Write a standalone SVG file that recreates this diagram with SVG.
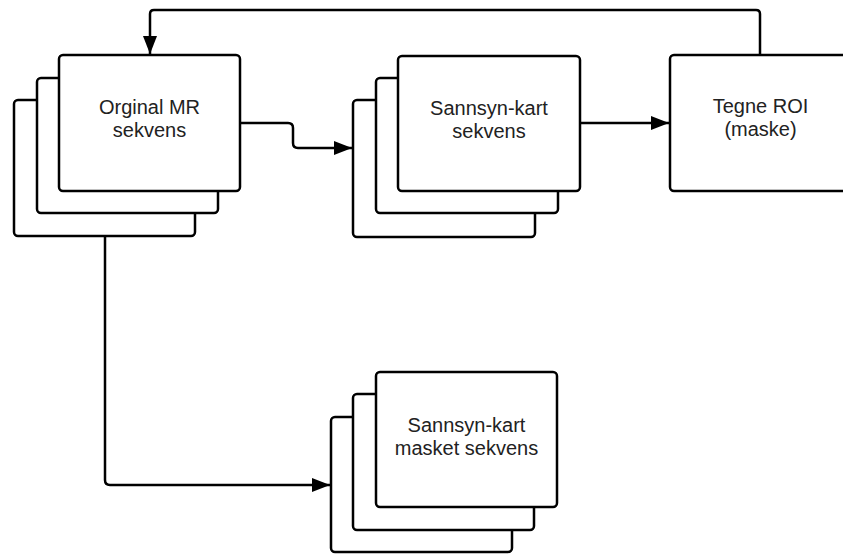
<svg xmlns="http://www.w3.org/2000/svg" width="843" height="554" viewBox="0 0 843 554">
<style>
.box{fill:#fff;stroke:#000;stroke-width:2.5}
.lbl{font-family:"Liberation Sans",Arial,sans-serif;font-size:20px;fill:#222;text-anchor:middle}
.conn{fill:none;stroke:#000;stroke-width:2.5}
</style>
<defs>
<marker id="arr" markerUnits="userSpaceOnUse" markerWidth="20" markerHeight="16" refX="18" refY="7" orient="auto">
<path d="M0,0 L18,7 L0,14 Z" fill="#000"/>
</marker>
</defs>
<rect width="843" height="554" fill="#fff"/>
<g id="connectors">
<path class="conn" d="M760,55 V14 Q760,10 756,10 H154 Q150,10 150,14 V54" marker-end="url(#arr)"/>
<path class="conn" d="M240,123 H288 Q293,123 293,128 V143 Q293,148 298,148 H352" marker-end="url(#arr)"/>
<path class="conn" d="M580,123 H669" marker-end="url(#arr)"/>
<path class="conn" d="M105,236 V480 Q105,485 110,485 H330" marker-end="url(#arr)"/>
</g>
<g id="orginal">
<rect class="box" x="14" y="100" width="181" height="136" rx="4"/>
<rect class="box" x="37" y="78" width="181" height="135" rx="4"/>
<rect class="box" x="59" y="55" width="181" height="136" rx="4"/>
<text class="lbl" x="149.5" y="114">Orginal MR</text>
<text class="lbl" x="149.5" y="137">sekvens</text>
</g>
<g id="sannsyn">
<rect class="box" x="353" y="100" width="182" height="137" rx="4"/>
<rect class="box" x="376" y="78" width="182" height="135" rx="4"/>
<rect class="box" x="398" y="56" width="182" height="135" rx="4"/>
<text class="lbl" x="489" y="115">Sannsyn-kart</text>
<text class="lbl" x="489" y="138">sekvens</text>
</g>
<g id="tegne">
<rect class="box" x="670" y="55" width="181" height="136" rx="4"/>
<text class="lbl" x="760.5" y="113">Tegne ROI</text>
<text class="lbl" x="760.5" y="136">(maske)</text>
</g>
<g id="masket">
<rect class="box" x="331" y="417" width="181" height="135" rx="4"/>
<rect class="box" x="353" y="394" width="181" height="136" rx="4"/>
<rect class="box" x="376" y="372" width="181" height="135" rx="4"/>
<text class="lbl" x="466.5" y="432">Sannsyn-kart</text>
<text class="lbl" x="466.5" y="455">masket sekvens</text>
</g>
</svg>
